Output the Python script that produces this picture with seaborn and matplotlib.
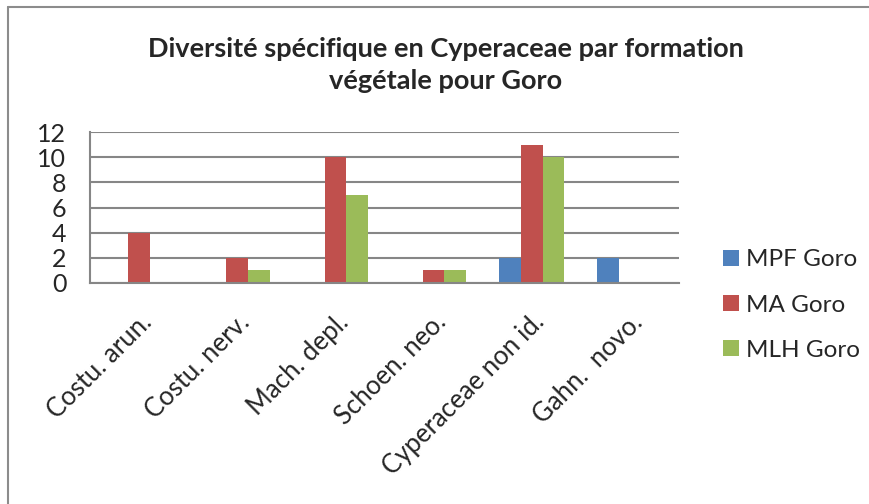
import matplotlib
matplotlib.use("Agg")
import matplotlib.pyplot as plt
import seaborn as sns
import pandas as pd
from matplotlib.lines import Line2D
from matplotlib.patches import Patch

categories = ["Costu. arun.", "Costu. nerv.", "Mach. depl.", "Schoen. neo.",
              "Cyperaceae non id.", "Gahn.  novo."]
series_names = ["MPF Goro", "MA Goro", "MLH Goro"]
mpf_goro = [0, 0, 0, 0, 2, 2]
ma_goro = [4, 2, 10, 1, 11, 0]
mlh_goro = [0, 1, 7, 1, 10, 0]
colors = ["#4F81BD", "#C0504D", "#9BBB59"]
yticks = [0, 2, 4, 6, 8, 10, 12]

rows = []
for name, vals in zip(series_names, [mpf_goro, ma_goro, mlh_goro]):
    for c, v in zip(categories, vals):
        rows.append({"cat": c, "series": name, "val": v})
df = pd.DataFrame(rows)

sns.set_style("white")
plt.rcParams["font.family"] = ["Lato", "DejaVu Sans"]

W, H = 869, 504
fig = plt.figure(figsize=(W / 100, H / 100), dpi=100)
ax = fig.add_axes([90 / W, 1 - 283 / H, (679 - 90) / W, (283 - 132) / H])

sns.barplot(data=df, x="cat", y="val", hue="series", order=categories,
            hue_order=series_names, palette=colors, saturation=1,
            width=0.667, ax=ax, legend=False, errorbar=None, linewidth=0,
            edgecolor="none")

ax.set_ylim(0, 12)
ax.set_xlim(-0.5, len(categories) - 0.5)
ax.set_yticks(yticks)
ax.set_yticklabels([str(t) for t in yticks], fontsize=18)
ax.yaxis.grid(True, color="#868686", linewidth=1.5)
ax.set_axisbelow(True)
ax.set_xlabel("")
ax.set_ylabel("")
for s in ["top", "right"]:
    ax.spines[s].set_visible(False)
for s in ["left", "bottom"]:
    ax.spines[s].set_color("#868686")
    ax.spines[s].set_linewidth(1.5)
ax.tick_params(axis="y", length=0, pad=17)
ax.tick_params(axis="x", length=0, pad=19)
ax.set_xticks(range(len(categories)))
ax.set_xticklabels(categories, rotation=45, ha="right", rotation_mode="anchor",
                   fontsize=18.5)

handles = [Patch(facecolor=c, edgecolor="none") for c in colors]
fig.legend(handles, series_names, loc="center left",
           bbox_to_anchor=(701 / W, 1 - 305 / H), frameon=False, fontsize=17.5,
           handlelength=0.65, handleheight=0.65, handletextpad=0.3,
           labelspacing=1.0)

fig.text(446 / W, 1 - 65 / H,
         "Diversité spécifique en Cyperaceae par formation\nvégétale pour Goro",
         ha="center", va="center", fontsize=19.5, fontweight="bold",
         linespacing=1.4)

fig.add_artist(Line2D([8 / W, 1], [1 - 7 / H, 1 - 7 / H], color="#8C8C8C",
                      linewidth=1.5, transform=fig.transFigure))
fig.add_artist(Line2D([8 / W, 8 / W], [0, 1 - 7 / H], color="#8C8C8C",
                      linewidth=1.5, transform=fig.transFigure))

fig.savefig("out.png", dpi=100)
